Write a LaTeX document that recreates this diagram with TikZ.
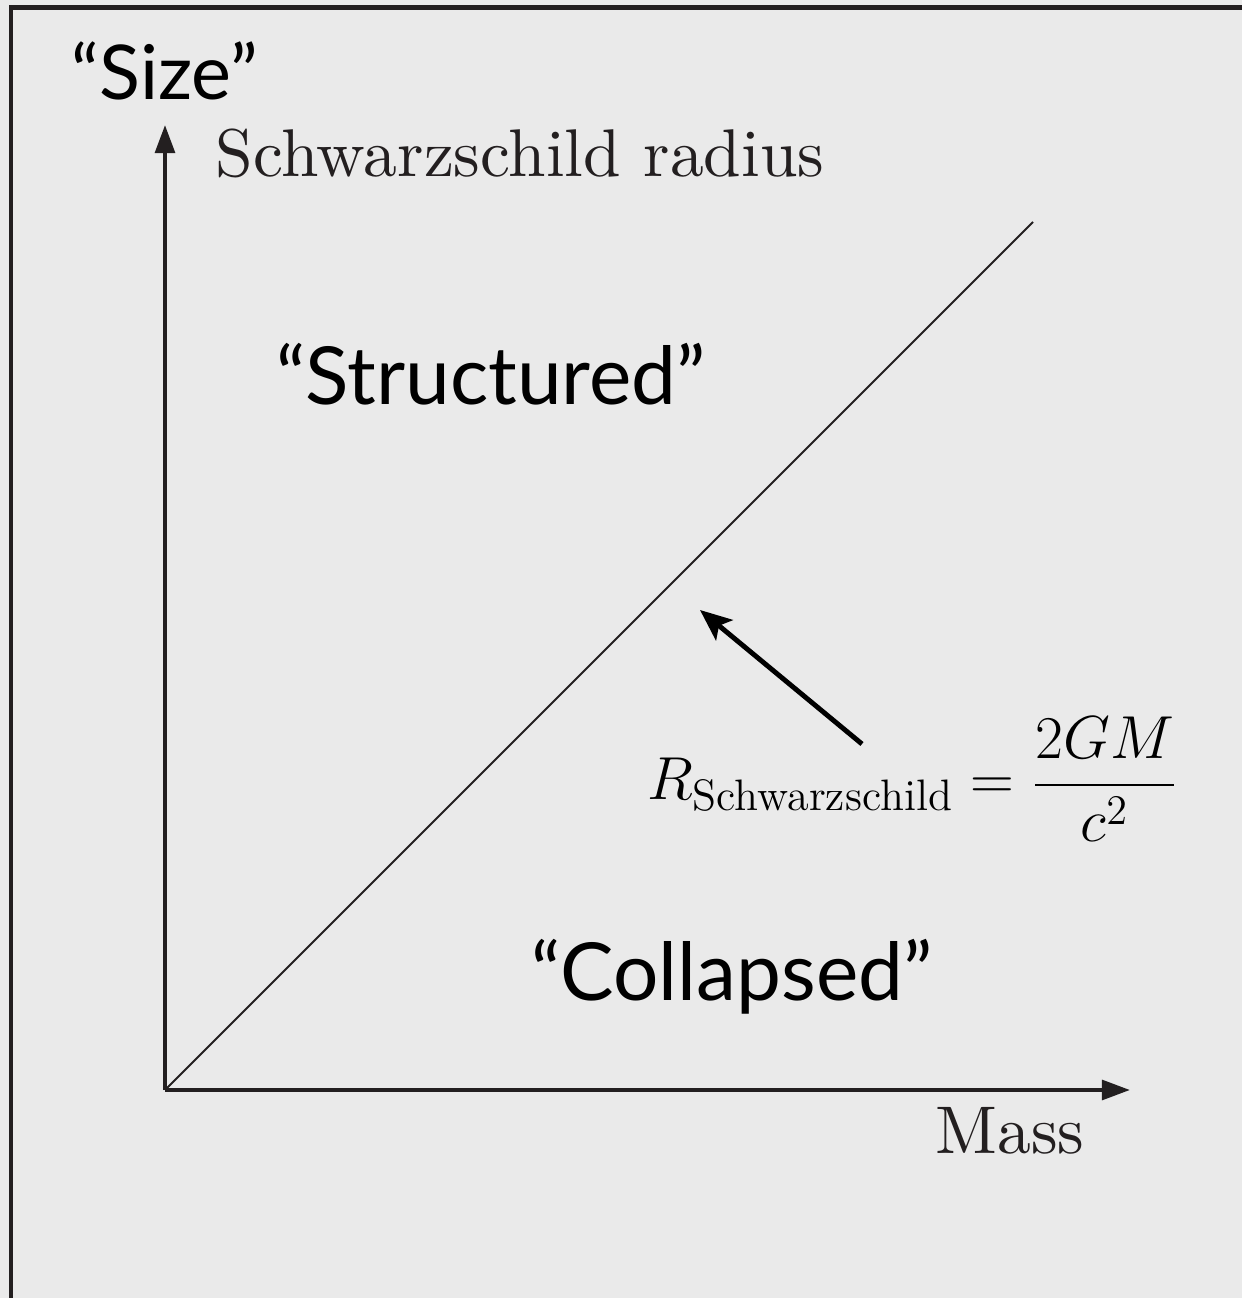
\documentclass[tikz,border=0pt]{standalone}
\usepackage{amsmath}
\usepackage{fontspec}
\newfontfamily\gillfont{Lato}
\newfontfamily\cmtenfont{lmroman10-regular.otf}
\usetikzlibrary{arrows.meta}
\definecolor{slidegray}{HTML}{EAEAEA}
\definecolor{inkdark}{HTML}{231F20}
\tikzset{
    axis/.style={inkdark, line width=1.15pt, -{Triangle[length=8pt,width=5.6pt]}},
    bigword/.style={font=\gillfont\fontsize{22.8}{27}\selectfont, inner sep=0pt},
    axislabel/.style={font=\cmtenfont\fontsize{19.2}{23}\selectfont, text=inkdark, inner sep=0pt}
}
\begin{document}
\begin{tikzpicture}
        \useasboundingbox (-1.65,-2.08) rectangle (10.77,10.90);
        \fill[slidegray] (-1.65,-2.08) rectangle (10.77,10.90);
        \draw[inkdark, line width=1.4pt] (-1.54,-2.3) -- (-1.54,10.825) -- (11,10.825);

        \coordinate (origin) at (0,0);
        \coordinate (ytop) at (0,9.65);
        \coordinate (xend) at (9.65,0);
        \coordinate (lineend) at (8.68,8.68);

        \draw[axis] (origin) -- (ytop);
        \draw[axis] (origin) -- (xend);
        \draw[inkdark, line width=0.6pt] (origin) -- (lineend);

        \node[font=\gillfont\fontsize{21.5}{25}\selectfont, inner sep=0pt, anchor=base] (size) at (0,9.9) {“Size”};
        \node[axislabel, anchor=base west] (ylabel) at (0.5,9.13) {Schwarzschild radius};
        \node[axislabel, anchor=base east] (xlabel) at (9.2,-0.63) {Mass};

        \node[bigword, anchor=base] (structured) at (3.26,6.85) {“Structured”};
        \node[bigword, anchor=base] (collapsed) at (5.67,0.9) {“Collapsed”};

        \node[inner sep=0pt, anchor=base west, font=\fontsize{17.9}{21}\selectfont] (formula) at (4.82,2.90)
            {$R_{\text{Schwarzschild}} = \dfrac{2GM}{c^2}$};
        \coordinate (tail) at (6.97,3.46);
        \coordinate (tip) at (5.35,4.80);
        \draw[line width=1.4pt, -{Stealth[length=9pt,width=7.5pt,inset=2pt]}] (tail) -- (tip);
    \end{tikzpicture}
\end{document}
